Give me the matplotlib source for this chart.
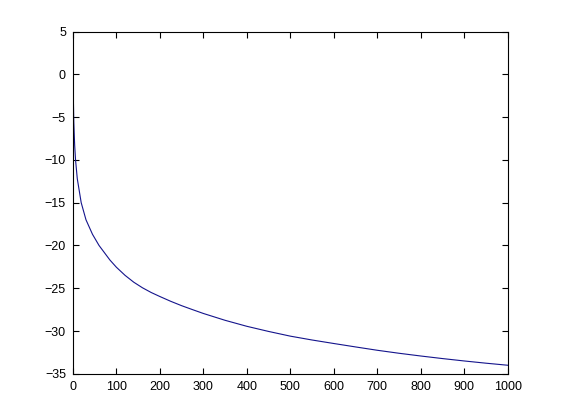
import matplotlib
matplotlib.use("Agg")
import matplotlib.pyplot as plt
import numpy as np

# values
x_vals = [1, 2, 3, 4, 6, 10, 19, 30, 45, 60, 85, 100, 120, 140, 160, 180, 200,
          225, 250, 275, 300, 350, 400, 450, 500, 550, 600, 650, 700, 750,
          800, 850, 900, 950, 1000]
y_vals = [-2.9, -5.6, -7.0, -8.3, -10.0, -12.2, -15.0, -17.0, -18.7, -20.0,
          -21.7, -22.55, -23.5, -24.3, -24.95, -25.5, -25.97, -26.53, -27.04,
          -27.5, -27.95, -28.75, -29.45, -30.05, -30.6, -31.05, -31.46,
          -31.86, -32.25, -32.6, -32.92, -33.22, -33.5, -33.76, -34.0]

x_ticks = np.arange(0, 1001, 100)
y_ticks = np.arange(-35, 6, 5)

plt.rcParams['font.family'] = ['Liberation Sans', 'DejaVu Sans']

fig = plt.figure(figsize=(5.61, 4.2), dpi=100)
ax = fig.add_axes([0.13, 0.11, 0.775, 0.815])
ax.plot(x_vals, y_vals, color='#14148c', linewidth=0.8)

ax.set_xlim(0, 1000)
ax.set_ylim(-35, 5)
ax.set_xticks(x_ticks)
ax.set_yticks(y_ticks)
ax.tick_params(direction='in', length=4, width=0.8, labelsize=9,
               top=True, right=True, pad=5)
for s in ax.spines.values():
    s.set_linewidth(0.8)

fig.savefig('out.png', dpi=100)
